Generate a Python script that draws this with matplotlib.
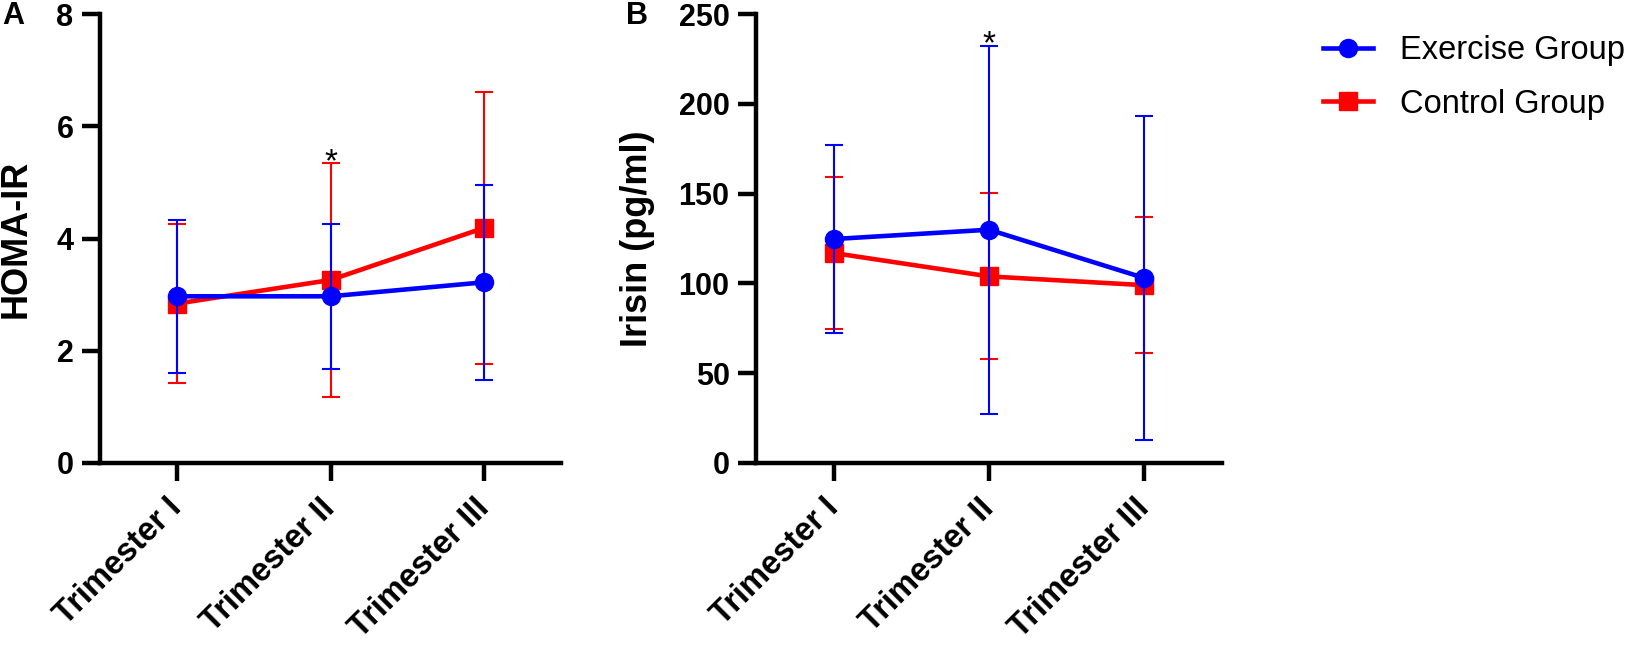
import matplotlib
matplotlib.use('Agg')
import matplotlib.pyplot as plt
from matplotlib.lines import Line2D

plt.rcParams['font.family'] = ['Liberation Sans', 'DejaVu Sans']

trimestres = ['Trimester I', 'Trimester II', 'Trimester III']

# HOMA-IR (media y DE)
homa_ejercicio = [2.97, 2.97, 3.22]
homa_ejercicio_de = [1.36, 1.29, 1.74]
homa_control = [2.84, 3.26, 4.19]
homa_control_de = [1.41, 2.09, 2.42]

# Irisina pg/ml (media y DE)
irisina_ejercicio = [124.7, 129.9, 103.0]
irisina_ejercicio_de = [52.2, 102.4, 90.0]
irisina_control = [116.9, 103.9, 99.0]
irisina_control_de = [42.3, 46.2, 37.9]

# asteriscos de significancia (indice, valor y)
estrella_homa = (1, 5.2)
estrella_irisina = (1, 228)

AZUL = '#0000ff'
ROJO = '#ff0000'

fig = plt.figure(figsize=(16.5, 6.45), dpi=100)
ax1 = fig.add_axes([100 / 1650, 1 - 463 / 645, 461 / 1650, 449 / 645])
ax2 = fig.add_axes([756 / 1650, 1 - 463 / 645, 466 / 1650, 449 / 645])

x = list(range(len(trimestres)))


def dibujar(ax, ctrl, ctrl_de, ejer, ejer_de):
    ax.errorbar(x, ctrl, yerr=ctrl_de, color=ROJO, marker='s', markersize=13.5,
                linewidth=3.3, elinewidth=1.5, capsize=6.5, capthick=1.5, zorder=3)
    ax.errorbar(x, ejer, yerr=ejer_de, color=AZUL, marker='o', markersize=13,
                linewidth=3.3, elinewidth=1.5, capsize=6.5, capthick=1.5, zorder=4)
    ax.set_xlim(-0.5, 2.5)
    ax.set_xticks(x)
    ax.set_xticklabels(trimestres, rotation=45, ha='right', va='center',
                       rotation_mode='anchor', fontsize=23.5, fontweight='bold')
    for s in ['top', 'right']:
        ax.spines[s].set_visible(False)
    for s in ['left', 'bottom']:
        ax.spines[s].set_linewidth(3.2)
    ax.tick_params(axis='both', width=3.2, length=13)
    ax.tick_params(axis='x', pad=16)
    ax.tick_params(axis='y', pad=6, labelsize=22)
    for t in ax.get_yticklabels():
        t.set_fontweight('bold')


dibujar(ax1, homa_control, homa_control_de, homa_ejercicio, homa_ejercicio_de)
ax1.set_ylim(0, 8)
ax1.set_yticks([0, 2, 4, 6, 8])
ax1.set_yticklabels(['0', '2', '4', '6', '8'], fontweight='bold')
ax1.set_ylabel('HOMA-IR', fontsize=26, fontweight='bold')
ax1.yaxis.set_label_coords((34 - 100) / 461, 0.5)
ax1.text(estrella_homa[0], estrella_homa[1], '*', ha='center', va='baseline',
         fontsize=24)

dibujar(ax2, irisina_control, irisina_control_de, irisina_ejercicio, irisina_ejercicio_de)
ax2.set_ylim(0, 250)
ax2.set_yticks([0, 50, 100, 150, 200, 250])
ax2.set_yticklabels(['0', '50', '100', '150', '200', '250'], fontweight='bold')
ax2.set_ylabel('Irisin (pg/ml)', fontsize=26, fontweight='bold')
ax2.yaxis.set_label_coords((655 - 756) / 466, 0.5)
ax2.text(estrella_irisina[0], estrella_irisina[1], '*', ha='center', va='baseline',
         fontsize=24)

fig.text(2 / 1650, 1 - 16 / 645, 'A', fontsize=22, fontweight='bold', va='center')
fig.text(626 / 1650, 1 - 16 / 645, 'B', fontsize=22, fontweight='bold', va='center')

handles = [
    Line2D([], [], color=AZUL, marker='o', markersize=13, linewidth=3.3),
    Line2D([], [], color=ROJO, marker='s', markersize=13.5, linewidth=3.3),
]
fig.legend(handles, ['Exercise Group', 'Control Group'], loc='center left',
           bbox_to_anchor=(1323 / 1650, 1 - 77.5 / 645), frameon=False,
           fontsize=23.5, handlelength=1.53, handletextpad=0.83,
           labelspacing=0.7, borderpad=0, borderaxespad=0)

fig.savefig('out.png', dpi=100)
